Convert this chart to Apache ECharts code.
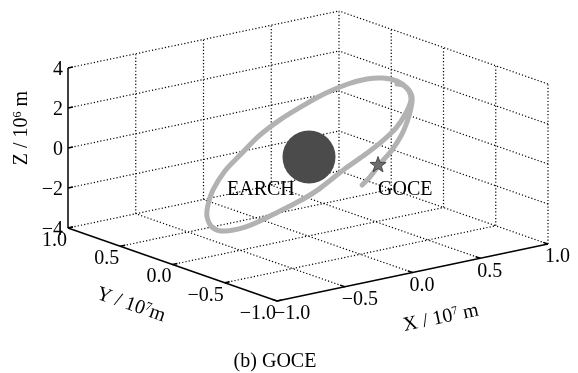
<!DOCTYPE html>
<html><head><meta charset="utf-8">
<script src="https://cdn.jsdelivr.net/npm/echarts@6/dist/echarts.min.js"></script>
<style>html,body{margin:0;padding:0;background:#fff}#c{width:578px;height:373px}</style>
</head><body><div id="c"></div>
<script>
// ---------- data ----------
const xTicks = [-1.0, -0.5, 0.0, 0.5, 1.0];
const yTicks = [-1.0, -0.5, 0.0, 0.5, 1.0];
const zTicks = [-4, -2, 0, 2, 4];
const xTickLabels = ['\u22121.0', '\u22120.5', '0.0', '0.5', '1.0'];
const yTickLabels = ['\u22121.0', '\u22120.5', '0.0', '0.5', '1.0'];
const zTickLabels = ['\u22124', '\u22122', '0', '2', '4'];
// GOCE track (X, Y in 10^7 m, Z in 10^6 m)
const orbitX = [0.399,0.458,0.531,0.620,0.686,0.731,0.760,0.768,0.731,0.657,0.554,0.435,0.295,0.133,-0.030,-0.199,-0.362,-0.494,-0.613,-0.701,-0.738,-0.745,-0.701,-0.613,-0.465,-0.339,-0.221,-0.118,-0.022,0.081,0.177,0.280,0.406,0.531,0.649,0.723,0.760,0.745,0.701,0.657];
const orbitY = [0,0,0,0,0,0,0,0,0,0,0,0,0,0,0,0,0,0,0,0,0,0,0,0,0,0,0,0,0,0,0,0,0,0,0,0,0,0,0,0];
const orbitZ = [-2.02,-1.70,-1.16,-0.58,0.02,0.66,1.32,1.86,2.36,2.81,3.11,3.23,3.18,2.96,2.59,2.13,1.52,0.80,0.12,-0.70,-1.40,-1.99,-2.60,-2.88,-2.89,-2.72,-2.48,-2.28,-2.07,-1.77,-1.40,-1.00,-0.58,-0.11,0.47,1.12,1.72,2.19,2.55,2.66];
const earthPos = [0, 0, 0];
const gocePos = [0.517, 0, -1.19];
const earthName = 'EARCH';
const goceName = 'GOCE';
const xTitle = ['X / 10', '7', ' m'];
const yTitle = ['Y / 10', '7', 'm'];
const zTitle = ['Z / 10', '6', ' m'];
const caption = '(b) GOCE';

// ---------- layout ----------
const FONT = "'Times New Roman','Liberation Serif',serif";
const FS = 20;
const BOX = { o: [277, 301], ex: [271, -57], ey: [-209, -73], ez: [0, -160] };
const xmin = xTicks[0], xmax = xTicks[xTicks.length - 1];
const ymin = yTicks[0], ymax = yTicks[yTicks.length - 1];
const zmin = zTicks[0], zmax = zTicks[zTicks.length - 1];
function proj(X, Y, Z) {
  const u = (X - xmin) / (xmax - xmin), v = (Y - ymin) / (ymax - ymin), w = (Z - zmin) / (zmax - zmin);
  return [BOX.o[0] + u * BOX.ex[0] + v * BOX.ey[0] + w * BOX.ez[0],
          BOX.o[1] + u * BOX.ex[1] + v * BOX.ey[1] + w * BOX.ez[1]];
}
const dotted = { stroke: '#000', lineWidth: 1.2, lineDash: [1.2, 2.1], fill: null };
const solid = { stroke: '#000', lineWidth: 1.5, fill: null };
function seg(a, b, style) { return { type: 'line', shape: { x1: a[0], y1: a[1], x2: b[0], y2: b[1] }, style: style }; }
function txt(x, y, s, align, valign) {
  return { type: 'text', x: x, y: y, style: { text: s, font: FS + 'px ' + FONT, fill: '#000', align: align, verticalAlign: valign } };
}
function richTitle(x, y, rot, parts) {
  return { type: 'text', x: x, y: y, rotation: rot, style: {
    text: '{a|' + parts[0] + '}{b|' + parts[1] + '}{a|' + parts[2] + '}',
    align: 'center', verticalAlign: 'middle',
    rich: { a: { fontSize: FS, fontFamily: FONT, fill: '#000', color: '#000' },
            b: { fontSize: 12, fontFamily: FONT, fill: '#000', color: '#000', verticalAlign: 'top' } } } };
}

const chart = echarts.init(document.getElementById('c'), null, { renderer: 'canvas' });

function gridItems(api) {
  const P = (X, Y, Z) => api.coord(proj(X, Y, Z));
  const ch = [];
  xTicks.slice(1).forEach(X => ch.push(seg(P(X, ymin, zmin), P(X, ymax, zmin), dotted)));
  yTicks.slice(1).forEach(Y => ch.push(seg(P(xmin, Y, zmin), P(xmax, Y, zmin), dotted)));
  xTicks.slice(1).forEach(X => ch.push(seg(P(X, ymax, zmin), P(X, ymax, zmax), dotted)));
  zTicks.slice(1).forEach(Z => ch.push(seg(P(xmin, ymax, Z), P(xmax, ymax, Z), dotted)));
  yTicks.slice(0, -1).forEach(Y => ch.push(seg(P(xmax, Y, zmin), P(xmax, Y, zmax), dotted)));
  zTicks.slice(1).forEach(Z => ch.push(seg(P(xmax, ymin, Z), P(xmax, ymax, Z), dotted)));
  return { type: 'group', children: ch };
}
function unit(a, b, len) { const dx = b[0] - a[0], dy = b[1] - a[1], l = Math.hypot(dx, dy); return [dx / l * len, dy / l * len]; }
function axesItems(api) {
  const P = (X, Y, Z) => api.coord(proj(X, Y, Z));
  const ch = [];
  ch.push(seg(P(xmin, ymax, zmin), P(xmin, ymax, zmax), solid));
  ch.push(seg(P(xmin, ymin, zmin), P(xmin, ymax, zmin), solid));
  ch.push(seg(P(xmin, ymin, zmin), P(xmax, ymin, zmin), solid));
  const ux = unit(P(xmin, 0, 0), P(xmax, 0, 0), 5);
  const uy = unit(P(0, ymin, 0), P(0, ymax, 0), 5);
  zTicks.forEach((Z, i) => {
    const p = P(xmin, ymax, Z);
    ch.push(seg(p, [p[0] + ux[0], p[1] + ux[1]], solid));
    ch.push(txt(p[0] - 5, p[1] + 1.5, zTickLabels[i], 'right', 'middle'));
  });
  yTicks.forEach((Y, i) => {
    const p = P(xmin, Y, zmin);
    ch.push(seg(p, [p[0] + ux[0], p[1] + ux[1]], solid));
    ch.push(txt(p[0] - 1, p[1] + 12.5, yTickLabels[i], 'right', 'middle'));
  });
  xTicks.forEach((X, i) => {
    const p = P(X, ymin, zmin);
    ch.push(seg(p, [p[0] + uy[0], p[1] + uy[1]], solid));
    ch.push(txt(p[0] - 3, p[1] + 13, xTickLabels[i], 'left', 'middle'));
  });
  return { type: 'group', children: ch };
}
function orbitItems(api) {
  const pts = orbitX.map((x, i) => api.coord(proj(x, orbitY[i], orbitZ[i])));
  return { type: 'polyline', shape: { points: pts, smooth: 0.3 },
    style: { stroke: '#b2b2b2', lineWidth: 5, fill: null, lineCap: 'round', lineJoin: 'round' } };
}
function bodyItems(api) {
  const e = api.coord(proj(earthPos[0], earthPos[1], earthPos[2]));
  const g = api.coord(proj(gocePos[0], gocePos[1], gocePos[2]));
  const star = [];
  for (let k = 0; k < 10; k++) {
    const r = k % 2 === 0 ? 8.5 : 3.4;
    const a = -Math.PI / 2 + k * Math.PI / 5;
    star.push([g[0] + r * Math.cos(a), g[1] + r * Math.sin(a)]);
  }
  return { type: 'group', children: [
    { type: 'circle', shape: { cx: e[0] + 1, cy: e[1] + 1, r: 26.5 }, style: { fill: '#4b4b4b' } },
    { type: 'polygon', shape: { points: star }, style: { fill: '#6e6e6e', stroke: '#4a4a4a', lineWidth: 1 } },
    txt(e[0] - 81, e[1] + 34, earthName, 'left', 'middle'),
    txt(g[0], g[1] + 25, goceName, 'left', 'middle')
  ] };
}
const mk = (fn, z) => ({ type: 'custom', coordinateSystem: 'cartesian2d', data: [[0, 0]], clip: false, silent: true, z: z,
  renderItem: (params, api) => fn(api) });

chart.setOption({
  animation: false,
  backgroundColor: '#fff',
  grid: { left: 0, right: 0, top: 0, bottom: 0 },
  xAxis: { type: 'value', min: 0, max: 578, show: false },
  yAxis: { type: 'value', min: 0, max: 373, inverse: true, show: false },
  series: [mk(gridItems, 1), mk(axesItems, 2), mk(orbitItems, 3), mk(bodyItems, 4)],
  graphic: [
    richTitle(22, 128, Math.PI / 2, zTitle),
    richTitle(131, 305, -Math.atan2(73, 209), yTitle),
    richTitle(441, 318, Math.atan2(57, 271), xTitle),
    { type: 'text', x: 275, y: 362, style: { text: caption, font: FS + 'px ' + FONT, fill: '#000', align: 'center', verticalAlign: 'middle' } }
  ]
});
</script></body></html>
